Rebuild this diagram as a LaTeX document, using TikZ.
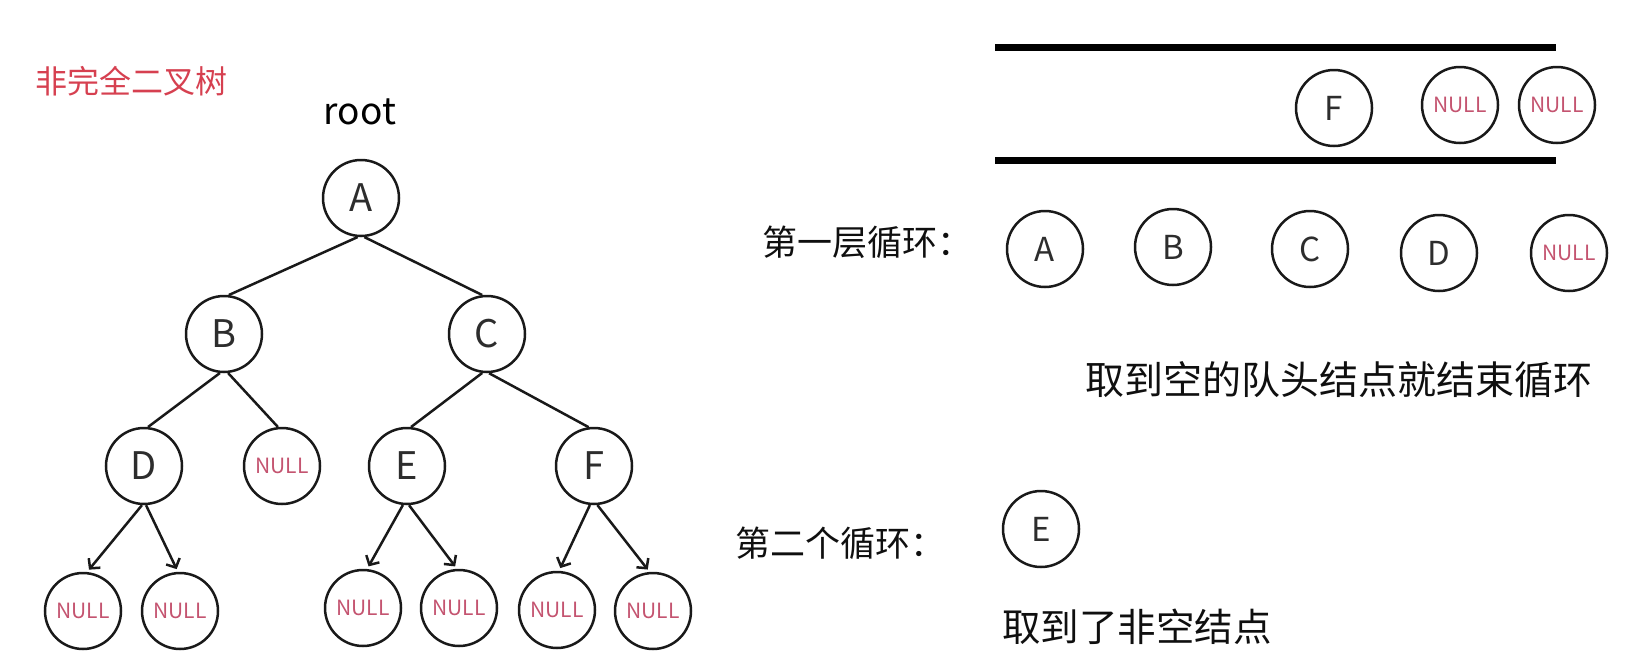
\documentclass[tikz,border=0pt]{standalone}
\usepackage{fontspec}
\setmainfont{Noto Sans CJK SC}
\usetikzlibrary{arrows.meta}
\definecolor{titlered}{RGB}{214,64,80}
\definecolor{nullred}{RGB}{196,84,112}
\definecolor{lettergray}{RGB}{45,45,45}
\definecolor{textblack}{RGB}{15,15,15}
\newcommand\fsz[1]{\fontsize{#1}{#1}\selectfont}
\begin{document}
\begin{tikzpicture}[x=1pt,y=-1pt,
  circ/.style={circle, draw=black!90, line width=2.5pt, minimum size=76pt, inner sep=0pt},
  tnode/.style={circ, text=lettergray, font=\fsz{38pt}},
  qnode/.style={circ, text=lettergray, font=\fsz{33pt}},
  nullnode/.style={circ, text=nullred, font=\fsz{21pt}},
  treeedge/.style={line width=2.5pt, black!90},
  arrowedge/.style={line width=2.5pt, black!90, -{Straight Barb[length=7pt,width=15pt]}, shorten >=3pt},
  bar/.style={line width=7pt, black},
  cntext/.style={inner sep=0pt, anchor=west, text=textblack}
]
\useasboundingbox (0,0) rectangle (1636,664);

% title and root label
\node[inner sep=0pt, text=titlered, font=\fsz{32pt}] (title) at (131,81) {非完全二叉树};
\node[inner sep=0pt, text=black, font=\fsz{37pt}] (root) at (360,112) {root};

% tree nodes
\node[tnode] (A) at (361,198) {A};
\node[tnode] (B) at (224,334) {B};
\node[tnode] (C) at (487,334) {C};
\node[tnode] (D) at (144,466) {D};
\node[nullnode] (BN) at (282,466) {NULL};
\node[tnode] (E) at (407,466) {E};
\node[tnode] (F) at (594,466) {F};
\node[nullnode] (DN1) at (83,611) {NULL};
\node[nullnode] (DN2) at (180,611) {NULL};
\node[nullnode] (EN1) at (363,608) {NULL};
\node[nullnode] (EN2) at (459,608) {NULL};
\node[nullnode] (FN1) at (557,610) {NULL};
\node[nullnode] (FN2) at (653,611) {NULL};

% tree edges
\draw[treeedge] (A.-95) -- (B.83);
\draw[treeedge] (A.-85) -- (C.97);
\draw[treeedge] (B.-96) -- (D.84);
\draw[treeedge] (B.-84) -- (BN.96);
\draw[treeedge] (C.-97) -- (E.84);
\draw[treeedge] (C.-87) -- (F.98);
\draw[arrowedge] (D.-93) -- (DN1.84);
\draw[arrowedge] (D.-87) -- (DN2.93);
\draw[arrowedge] (E.-96) -- (EN1.84);
\draw[arrowedge] (E.-87) -- (EN2.93);
\draw[arrowedge] (F.-96) -- (FN1.87);
\draw[arrowedge] (F.-85) -- (FN2.95);

% queue
\coordinate (qtl) at (995,47);
\coordinate (qtr) at (1556,47);
\coordinate (qbl) at (995,160);
\coordinate (qbr) at (1556,160);
\draw[bar] (qtl) -- (qtr);
\draw[bar] (qbl) -- (qbr);
\node[qnode] (QF) at (1334,108) {F};
\node[nullnode] (QN1) at (1460,105) {NULL};
\node[nullnode] (QN2) at (1557,105) {NULL};

% first loop
\node[cntext, font=\fsz{35pt}] (loop1) at (762,242) {第一层循环：};
\node[qnode] (LA) at (1045,249) {A};
\node[qnode] (LB) at (1173,247) {B};
\node[qnode] (LC) at (1310,249) {C};
\node[qnode] (LD) at (1439,253) {D};
\node[nullnode] (LN) at (1569,253) {NULL};

\node[cntext, font=\fsz{39pt}] (end1) at (1085,380) {取到空的队头结点就结束循环};

% second loop
\node[cntext, font=\fsz{35pt}] (loop2) at (735,543) {第二个循环：};
\node[qnode] (LE) at (1041,529) {E};
\node[cntext, font=\fsz{38.5pt}] (end2) at (1002,627) {取到了非空结点};
\end{tikzpicture}
\end{document}
